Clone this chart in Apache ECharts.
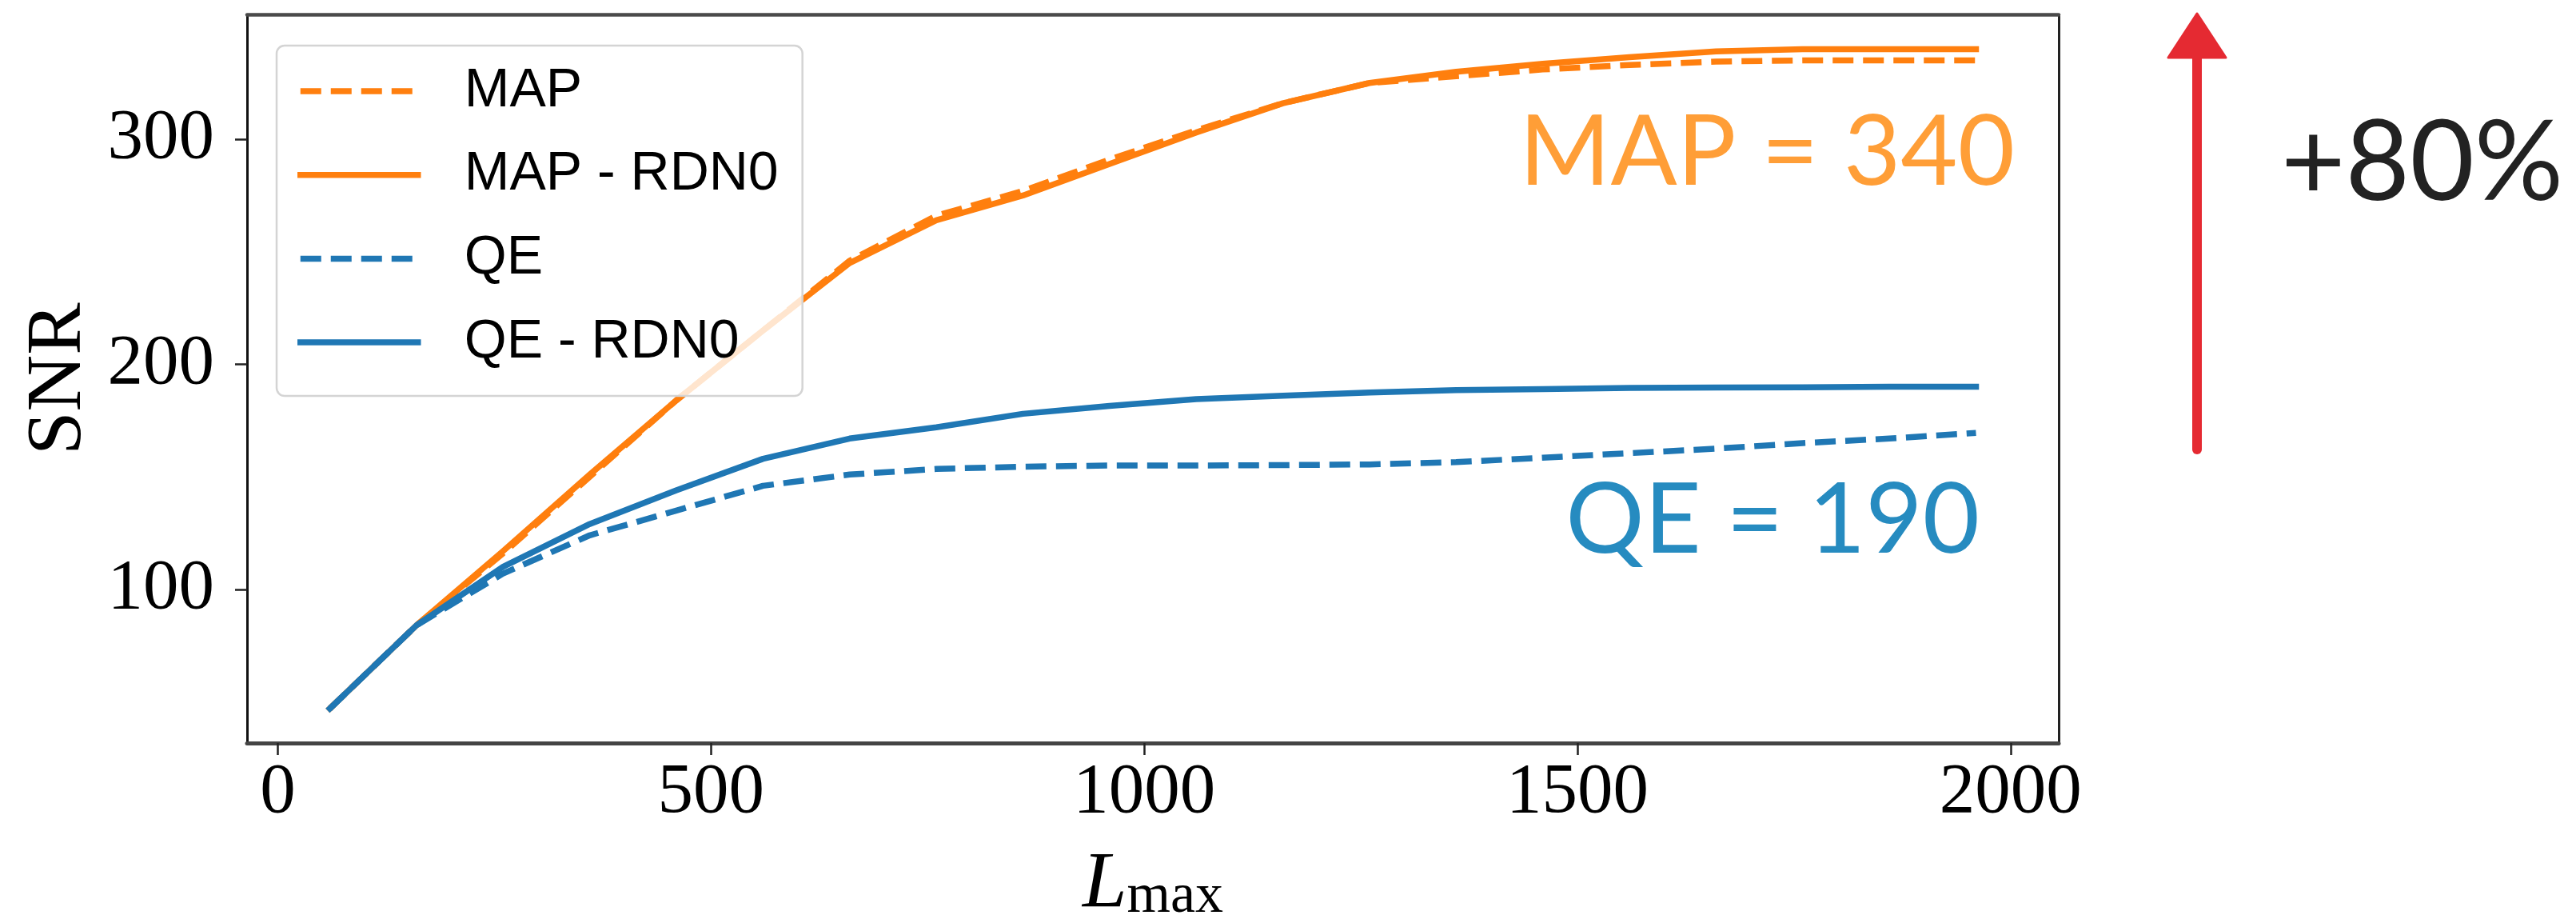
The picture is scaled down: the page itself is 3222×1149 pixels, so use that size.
<!DOCTYPE html>
<html>
<head>
<meta charset="utf-8">
<script src="https://cdn.jsdelivr.net/npm/echarts@6/dist/echarts.min.js"></script>
<style>
  html, body { margin: 0; padding: 0; background: #ffffff; }
  #chart { width: 3222px; height: 1149px; }
</style>
</head>
<body>
<div id="chart"></div>
<script>
// Maximum multipole used in the reconstruction
const lmax = [60, 160, 260, 360, 460, 560, 660, 760, 860, 960, 1060, 1160, 1260, 1360, 1460, 1560, 1660, 1760, 1860, 1960];

// Signal-to-noise ratio of the lensing reconstruction for each estimator
const snrMap      = [47, 84, 116, 150, 184, 215, 246, 266, 277, 291, 304, 316, 325, 328, 331, 333, 334.5, 335, 335, 335];
const snrMapRdn0  = [47, 84, 117, 151, 184, 215, 245, 264, 275, 289, 303, 316, 325, 330, 333.5, 336.5, 339, 340, 340, 340];
const snrQe       = [47, 84, 107, 124, 135, 146, 151, 153.5, 154.5, 155, 155, 155.2, 155.5, 156.5, 158.5, 160.5, 162.5, 165, 167, 169.5];
const snrQeRdn0   = [47, 84, 110, 129, 144, 158, 167, 172, 178, 181.5, 184.5, 186, 187.5, 188.5, 189, 189.5, 189.7, 189.8, 190, 190];

const seriesNames = ['MAP', 'MAP - RDN0', 'QE', 'QE - RDN0'];
const xTicks = [0, 500, 1000, 1500, 2000];
const yTicks = [100, 200, 300];
const gainText = '+80%';

const ORANGE = '#ff7f0e';
const BLUE = '#1f77b4';
const LINE_W = 7.5;
const DASH = [26, 12];

const xRange = [-35.5, 2055.5];
const yRange = [31.7, 355.3];

function pairs(ys) {
  return lmax.map((x, i) => [x, ys[i]]);
}

function lineSeries(name, ys, color, dashed) {
  return {
    name: name,
    type: 'line',
    data: pairs(ys),
    symbol: 'none',
    showSymbol: false,
    smooth: false,
    clip: true,
    itemStyle: { color: color },
    lineStyle: {
      color: color,
      width: LINE_W,
      type: dashed ? DASH : 'solid',
      cap: dashed ? 'butt' : 'square',
      join: 'round'
    },
    emphasis: { disabled: true },
    z: 2
  };
}

const serif = '"Liberation Serif", "DejaVu Serif", serif';
const sans = '"Liberation Sans", Arial, sans-serif';
const note = 'Lato, "Noto Sans", sans-serif';
const plain = (v) => String(v);

const last = lmax.length - 1;

const chart = echarts.init(document.getElementById('chart'), null, { renderer: 'canvas' });

chart.setOption({
  animation: false,
  backgroundColor: '#ffffff',
  grid: {
    left: 309,
    right: 3222 - 2575,
    top: 18.5,
    bottom: 1149 - 929,
    containLabel: false,
    outerBoundsMode: 'none'
  },
  legend: {
    show: true,
    orient: 'vertical',
    left: 346,
    top: 57,
    padding: [22, 30, 32, 26],
    itemWidth: 147,
    itemHeight: 40,
    itemGap: 34.7,
    selectedMode: false,
    backgroundColor: 'rgba(255,255,255,0.8)',
    borderColor: '#d4d4d4',
    borderWidth: 2.5,
    borderRadius: 10,
    itemStyle: { opacity: 0, borderWidth: 0 },
    lineStyle: { width: LINE_W },
    textStyle: {
      fontFamily: sans,
      fontSize: 68,
      color: '#000000',
      lineHeight: 70,
      padding: [0, 0, 0, 53]
    },
    data: seriesNames,
    z: 5
  },
  xAxis: [
    {
      type: 'value',
      min: xRange[0],
      max: xRange[1],
      position: 'bottom',
      name: '{l|L}{s|max}',
      nameLocation: 'middle',
      nameGap: 128,
      nameTextStyle: {
        rich: {
          l: { fontFamily: serif, fontStyle: 'italic', fontSize: 100, lineHeight: 100, verticalAlign: 'top', color: '#000' },
          s: { fontFamily: serif, fontSize: 70, lineHeight: 30, verticalAlign: 'bottom', color: '#000' }
        }
      },
      axisLine: { show: true, onZero: false, lineStyle: { color: '#444444', width: 5 } },
      axisTick: { show: true, inside: false, length: 15, customValues: xTicks, lineStyle: { color: '#222222', width: 2.5 } },
      axisLabel: { show: true, customValues: xTicks, formatter: plain, margin: 18, fontFamily: serif, fontSize: 89, color: '#000000' },
      splitLine: { show: false },
      minorTick: { show: false }
    },
    {
      type: 'value',
      min: xRange[0],
      max: xRange[1],
      position: 'top',
      axisLine: { show: true, onZero: false, lineStyle: { color: '#4a4a4a', width: 4.5 } },
      axisTick: { show: false },
      axisLabel: { show: false },
      splitLine: { show: false }
    }
  ],
  yAxis: [
    {
      type: 'value',
      min: yRange[0],
      max: yRange[1],
      position: 'left',
      name: 'SNR',
      nameLocation: 'middle',
      nameGap: 185,
      nameTextStyle: { fontFamily: serif, fontSize: 98, color: '#000000' },
      axisLine: { show: true, onZero: false, lineStyle: { color: '#111111', width: 3 } },
      axisTick: { show: true, inside: false, length: 15, customValues: yTicks, lineStyle: { color: '#222222', width: 2.5 } },
      axisLabel: { show: true, customValues: yTicks, formatter: plain, margin: 41, fontFamily: serif, fontSize: 89, color: '#000000' },
      splitLine: { show: false }
    },
    {
      type: 'value',
      min: yRange[0],
      max: yRange[1],
      position: 'right',
      axisLine: { show: true, onZero: false, lineStyle: { color: '#222222', width: 3 } },
      axisTick: { show: false },
      axisLabel: { show: false },
      splitLine: { show: false }
    }
  ],
  series: [
    lineSeries(seriesNames[0], snrMap, ORANGE, true),
    lineSeries(seriesNames[1], snrMapRdn0, ORANGE, false),
    lineSeries(seriesNames[2], snrQe, BLUE, true),
    lineSeries(seriesNames[3], snrQeRdn0, BLUE, false)
  ],
  graphic: [
    {
      type: 'text',
      x: 2520,
      y: 191,
      style: {
        text: 'MAP = ' + snrMapRdn0[last],
        fill: '#ff9e37',
        font: '400 123px ' + note,
        align: 'right', textAlign: 'right',
        verticalAlign: 'middle', textVerticalAlign: 'middle'
      },
      z: 10
    },
    {
      type: 'text',
      x: 2476,
      y: 651,
      style: {
        text: 'QE = ' + snrQeRdn0[last],
        fill: '#268bc0',
        font: '400 123px ' + note,
        align: 'right', textAlign: 'right',
        verticalAlign: 'middle', textVerticalAlign: 'middle'
      },
      z: 10
    },
    {
      type: 'line',
      shape: { x1: 2748, y1: 562, x2: 2748, y2: 66 },
      style: { stroke: '#e52a32', lineWidth: 12, lineCap: 'round' },
      z: 10
    },
    {
      type: 'polygon',
      shape: { points: [[2712, 72], [2784, 72], [2748, 17]] },
      style: { fill: '#e52a32', stroke: '#e52a32', lineWidth: 3, lineJoin: 'round' },
      z: 10
    },
    {
      type: 'text',
      x: 2853,
      y: 205,
      style: {
        text: gainText,
        fill: '#222222',
        font: '400 139px ' + note,
        align: 'left', textAlign: 'left',
        verticalAlign: 'middle', textVerticalAlign: 'middle'
      },
      z: 10
    }
  ]
});
</script>
</body>
</html>
